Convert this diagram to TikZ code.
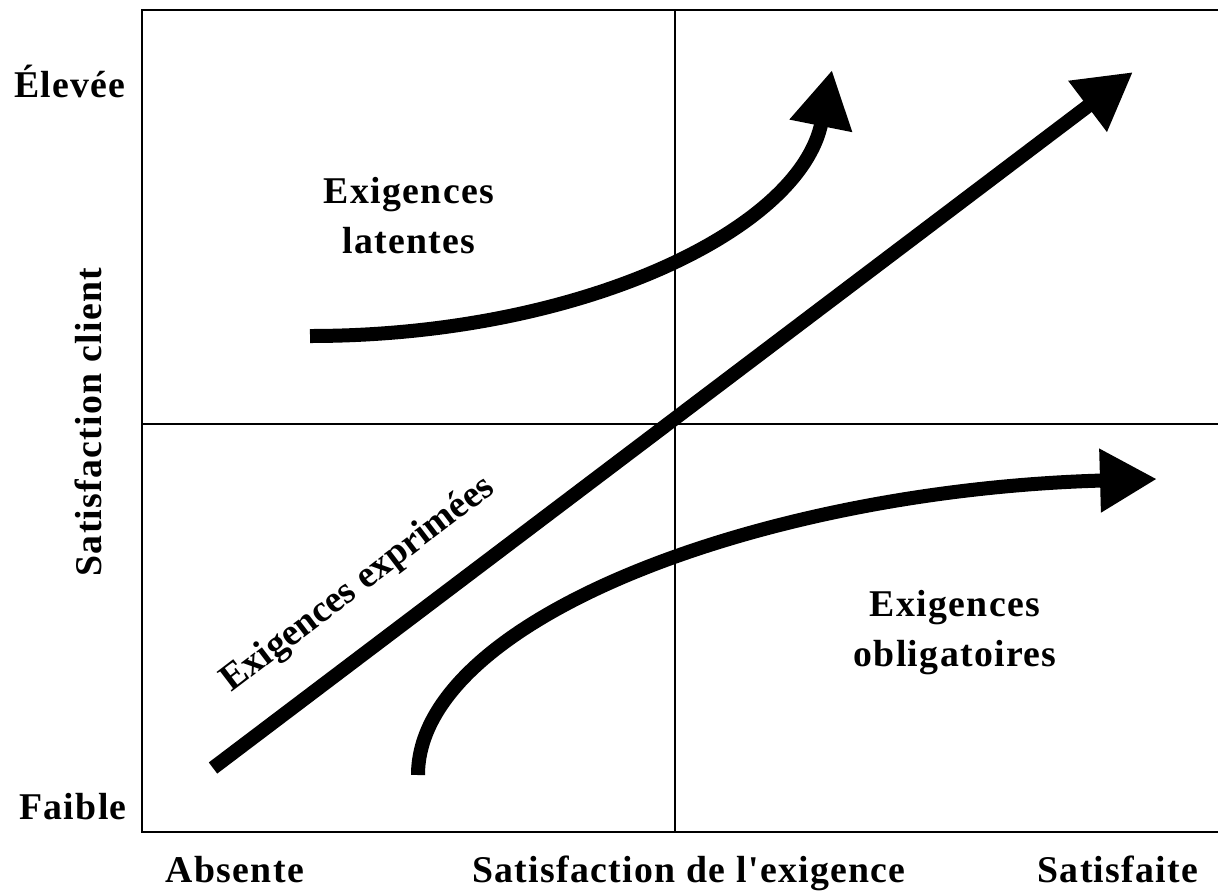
\documentclass[tikz,border=0pt]{standalone}
\usepackage{fontspec}
\setmainfont{Liberation Serif}
\newfontfamily\lblfont[LetterSpace=3.5]{Liberation Serif}
\usetikzlibrary{arrows.meta}

\begin{document}
\begin{tikzpicture}[x=0.02cm, y=-0.02cm,
  lbl/.style={font=\fontsize{21.5}{28.2}\selectfont\lblfont\bfseries, inner sep=0pt, align=center},
  slanted/.style={font=\fontsize{21.5}{26}\selectfont\bfseries, inner sep=0pt},
  frame/.style={line width=1.6pt},
  axis/.style={line width=1.2pt},
  flow/.style={line width=0.28cm, -{Triangle[length=1.14cm, width=1.2cm]}}]
\useasboundingbox (0,0) rectangle (1218,893);
\clip (0,0) rectangle (1218,893);

% quadrant frame and centre lines
\draw[frame] (142,10) rectangle (1250,832);
\draw[axis] (675,10) -- (675,832);
\draw[axis] (142,424) -- (1250,424);

% axis labels
\node[lbl, anchor=base] (high) at (70,97) {Élevée};
\node[lbl, anchor=base] (low) at (73,819) {Faible};
\node[lbl, anchor=base, rotate=90] (yaxis) at (101,422) {Satisfaction client};
\node[lbl, anchor=base] (absent) at (235,882) {Absente};
\node[lbl, anchor=base] (xaxis) at (689,882) {Satisfaction de l'exigence};
\node[lbl, anchor=base] (met) at (1118,882) {Satisfaite};

% curve end points
\coordinate (d0) at (213,768);
\coordinate (d1) at (1133,72);
\coordinate (l0) at (310,336);
\coordinate (l1) at (832,70);
\coordinate (o0) at (418,775);
\coordinate (o1) at (1157,479);

% expressed requirements: straight diagonal
\draw[flow] (d0) -- (d1);
% latent requirements
\draw[flow] (l0) .. controls (580,336) and (800,230) .. (l1);
% mandatory requirements
\draw[flow] (o0) .. controls (418,620) and (760,490) .. (o1);

% curve labels
\node[slanted, anchor=base, rotate=37.3] (expr) at (364,592) {Exigences exprimées};
\node[lbl, anchor=base] (lat) at (409,253) {Exigences\\latentes};
\node[lbl, anchor=base] (obl) at (955,666) {Exigences\\obligatoires};
\end{tikzpicture}
\end{document}
